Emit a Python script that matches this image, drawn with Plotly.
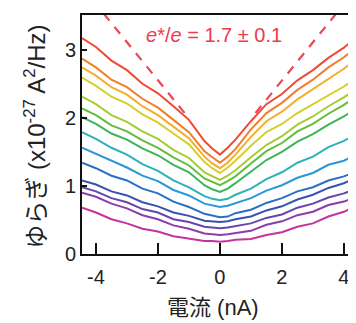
import plotly.graph_objects as go

# Current (nA) sample positions
current_nA = [-4.45, -4, -3.5, -3, -2.5, -2, -1.5, -1, -0.5, -0.25, 0,
              0.25, 0.5, 1, 1.5, 2, 2.5, 3, 3.5, 4, 4.45]

# Noise curves (x1e-27 A^2/Hz), top to bottom
noise_1 = [3.17, 3.04, 2.84, 2.70, 2.50, 2.36, 2.17, 1.97, 1.66, 1.55, 1.46, 1.56, 1.68, 1.95, 2.20, 2.35, 2.55, 2.70, 2.88, 3.03, 3.20]
noise_2 = [2.87, 2.74, 2.56, 2.45, 2.28, 2.15, 1.97, 1.79, 1.51, 1.42, 1.34, 1.43, 1.54, 1.83, 2.07, 2.22, 2.41, 2.56, 2.74, 2.89, 3.05]
noise_3 = [2.74, 2.62, 2.45, 2.34, 2.17, 2.04, 1.87, 1.70, 1.43, 1.33, 1.26, 1.34, 1.46, 1.72, 1.95, 2.09, 2.27, 2.42, 2.58, 2.72, 2.88]
noise_4 = [2.59, 2.47, 2.31, 2.21, 2.05, 1.93, 1.77, 1.61, 1.35, 1.26, 1.19, 1.27, 1.37, 1.59, 1.79, 1.91, 2.07, 2.20, 2.34, 2.46, 2.60]
noise_5 = [2.31, 2.20, 2.04, 1.94, 1.80, 1.69, 1.53, 1.41, 1.20, 1.14, 1.09, 1.15, 1.23, 1.42, 1.60, 1.73, 1.90, 2.02, 2.17, 2.30, 2.45]
noise_6 = [2.14, 2.04, 1.89, 1.80, 1.67, 1.56, 1.42, 1.30, 1.11, 1.06, 1.01, 1.07, 1.14, 1.33, 1.51, 1.63, 1.80, 1.91, 2.06, 2.19, 2.33]
noise_7 = [2.01, 1.91, 1.77, 1.68, 1.55, 1.45, 1.31, 1.20, 1.01, 0.95, 0.91, 0.96, 1.04, 1.21, 1.38, 1.50, 1.65, 1.76, 1.90, 2.02, 2.15]
noise_8 = [1.79, 1.69, 1.56, 1.46, 1.32, 1.22, 1.08, 0.98, 0.85, 0.81, 0.79, 0.81, 0.87, 0.96, 1.10, 1.20, 1.34, 1.43, 1.57, 1.66, 1.78]
noise_9 = [1.56, 1.47, 1.36, 1.27, 1.15, 1.07, 0.94, 0.86, 0.74, 0.71, 0.69, 0.71, 0.75, 0.82, 0.93, 1.01, 1.12, 1.19, 1.31, 1.37, 1.47]
noise_10 = [1.34, 1.26, 1.15, 1.08, 0.96, 0.89, 0.77, 0.69, 0.59, 0.56, 0.54, 0.55, 0.60, 0.65, 0.75, 0.82, 0.92, 0.98, 1.08, 1.14, 1.22]
noise_11 = [1.08, 1.02, 0.92, 0.86, 0.76, 0.70, 0.61, 0.56, 0.49, 0.48, 0.47, 0.48, 0.51, 0.55, 0.64, 0.70, 0.80, 0.87, 0.97, 1.04, 1.13]
noise_12 = [0.98, 0.92, 0.82, 0.76, 0.66, 0.61, 0.51, 0.47, 0.40, 0.39, 0.38, 0.39, 0.41, 0.45, 0.53, 0.58, 0.68, 0.74, 0.83, 0.89, 0.97]
noise_13 = [0.90, 0.84, 0.74, 0.67, 0.57, 0.51, 0.42, 0.37, 0.30, 0.29, 0.28, 0.29, 0.31, 0.34, 0.43, 0.48, 0.57, 0.62, 0.72, 0.77, 0.85]
noise_14 = [0.68, 0.61, 0.51, 0.45, 0.37, 0.33, 0.26, 0.23, 0.19, 0.19, 0.18, 0.19, 0.21, 0.22, 0.28, 0.32, 0.40, 0.45, 0.55, 0.62, 0.72]

curves = [noise_1, noise_2, noise_3, noise_4, noise_5, noise_6, noise_7,
          noise_8, noise_9, noise_10, noise_11, noise_12, noise_13, noise_14]
colors = ["#f04a36", "#f27d2c", "#f4ae2a", "#d6cf2a", "#a6cc34", "#62bd3e",
          "#3cb45a", "#2cb2b8", "#2a98d6", "#2a70c2", "#3852ae", "#6646aa",
          "#8c3cac", "#c4349c"]

# Guide lines for e*/e = 1.7
guide_left_x = [-3.75, -1.12]
guide_left_y = [3.53, 2.06]
guide_right_x = [1.15, 3.75]
guide_right_y = [2.07, 3.53]

x_ticks = [-4, -2, 0, 2, 4]
x_tick_text = ["-4", "-2", "0", "2", "4"]
y_ticks = [0, 1, 2, 3]

FONT = "Liberation Sans, Arial, Noto Sans CJK JP, sans-serif"

fig = go.Figure()
for ys, c in zip(curves, colors):
    fig.add_trace(go.Scatter(x=current_nA, y=ys, mode="lines",
                             line=dict(color=c, width=2), showlegend=False))

for gx, gy in [(guide_left_x, guide_left_y), (guide_right_x, guide_right_y)]:
    fig.add_trace(go.Scatter(x=gx, y=gy, mode="lines", showlegend=False,
                             line=dict(color="#ee4656", width=2.2, dash="9px,8px")))

fig.add_annotation(x=-0.2, y=3.22, xref="x", yref="y", showarrow=False,
                   text="<i>e</i>*/<i>e</i> = 1.7 ± 0.1",
                   font=dict(family=FONT, size=20, color="#ee3a4c"))

# axis titles
fig.add_annotation(x=-0.172, y=0.49, xref="paper", yref="paper", showarrow=False,
                   text="ゆらぎ (x10<sup>-27</sup> A<sup>2</sup>/Hz)", textangle=-90,
                   xanchor="center", yanchor="middle",
                   font=dict(family=FONT, size=24, color="#222"))
fig.add_annotation(x=0.478, y=-0.222, xref="paper", yref="paper", showarrow=False,
                   text="電流 (nA)", xanchor="center", yanchor="middle",
                   font=dict(family=FONT, size=22, color="#222"))

# The page body has an 8px margin, so the figure is sized to fill the rest.
fig.update_layout(
    width=348, height=315,
    margin=dict(l=74, r=0, t=7, b=69),
    paper_bgcolor="white", plot_bgcolor="white",
    font=dict(family=FONT, color="#222"),
    xaxis=dict(range=[-4.45, 4.39], showgrid=False, zeroline=False, automargin=False,
               showline=True, linecolor="#111", linewidth=2, mirror=True,
               ticks="inside", ticklen=11, tickwidth=2, tickcolor="#111",
               tickvals=x_ticks, ticktext=x_tick_text, ticklabelstandoff=4,
               tickfont=dict(size=20, family=FONT, color="#222")),
    yaxis=dict(range=[0, 3.51], showgrid=False, zeroline=False, automargin=False,
               showline=True, linecolor="#111", linewidth=2,
               ticks="inside", ticklen=5, tickwidth=2, tickcolor="#111",
               tickvals=y_ticks, tickfont=dict(size=20, family=FONT, color="#222")),
)

fig.write_html("out.html")
